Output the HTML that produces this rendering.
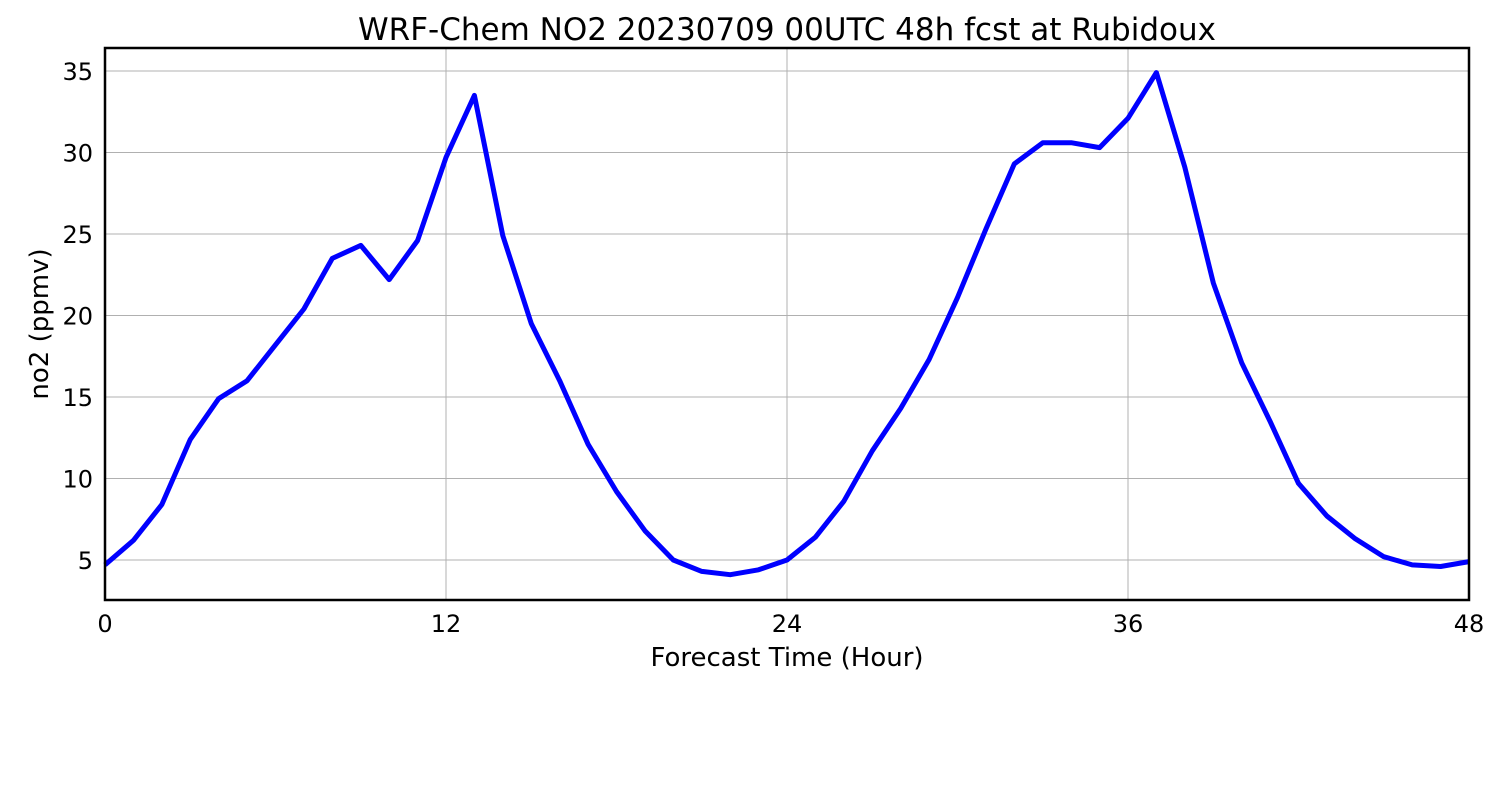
<!DOCTYPE html>
<html><head><meta charset="utf-8"><style>
body{margin:0;background:#fff;}
svg text{font-family:"DejaVu Sans","Liberation Sans",sans-serif;fill:#000;}
</style></head><body>
<svg id="chart" width="1500" height="800" xmlns="http://www.w3.org/2000/svg">
<rect width="1500" height="800" fill="#fff"/>
<text x="787" y="40" font-size="31" text-anchor="middle">WRF-Chem NO2  20230709 00UTC 48h fcst at Rubidoux</text>
<g id="grid"></g>
<g id="ticks"></g>
<path id="line" fill="none" stroke="#0000ff" stroke-width="5" stroke-linejoin="round"/>
<rect x="105" y="48" width="1364" height="552" fill="none" stroke="#000" stroke-width="2.5"/>
<text x="787" y="666" font-size="26" text-anchor="middle">Forecast Time (Hour)</text>
<text transform="translate(48,324) rotate(-90)" font-size="26" text-anchor="middle">no2  (ppmv)</text>
</svg>
<script>
const hours = [0,1,2,3,4,5,6,7,8,9,10,11,12,13,14,15,16,17,18,19,20,21,22,23,24,25,26,27,28,29,30,31,32,33,34,35,36,37,38,39,40,41,42,43,44,45,46,47,48];
const no2 = [4.7,6.2,8.4,12.4,14.9,16.0,18.2,20.4,23.5,24.3,22.2,24.6,29.7,33.5,24.9,19.5,16.0,12.1,9.2,6.8,5.0,4.3,4.1,4.4,5.0,6.4,8.6,11.7,14.3,17.3,21.1,25.3,29.3,30.6,30.6,30.3,32.1,34.9,29.1,22.0,17.1,13.5,9.7,7.7,6.3,5.2,4.7,4.6,4.9];
const xTicks = [0,12,24,36,48];
const yTicks = [5,10,15,20,25,30,35];
const X = v => 105 + (v - 0) * (1469 - 105) / 48;
const Y = v => 560 - (v - 5) * (560 - 71) / 30;
const NS = "http://www.w3.org/2000/svg";
const grid = document.getElementById('grid'), ticks = document.getElementById('ticks');
function mk(tag, attrs, parent){const e=document.createElementNS(NS,tag);for(const k in attrs)e.setAttribute(k,attrs[k]);parent.appendChild(e);return e;}
xTicks.forEach(t=>{
  const l=mk('line',{x1:X(t),x2:X(t),y1:48,y2:600,stroke:'#b0b0b0','stroke-width':1},grid);
  
  
  const tx=mk('text',{x:X(t),y:632,'font-size':24,'text-anchor':'middle'},ticks);
  tx.textContent=t;
  
  
});
yTicks.forEach(t=>{
  const l=mk('line',{x1:105,x2:1469,y1:Y(t),y2:Y(t),stroke:'#b0b0b0','stroke-width':1},grid);
  
  
  const tx=mk('text',{x:93,y:Y(t)+9,'font-size':24,'text-anchor':'end'},ticks);
  tx.textContent=t;
  
  
});
document.getElementById('line').setAttribute('d', hours.map((h,i)=>(i?'L':'M')+X(h).toFixed(1)+','+Y(no2[i]).toFixed(1)).join(' '));
</script>
</body></html>
